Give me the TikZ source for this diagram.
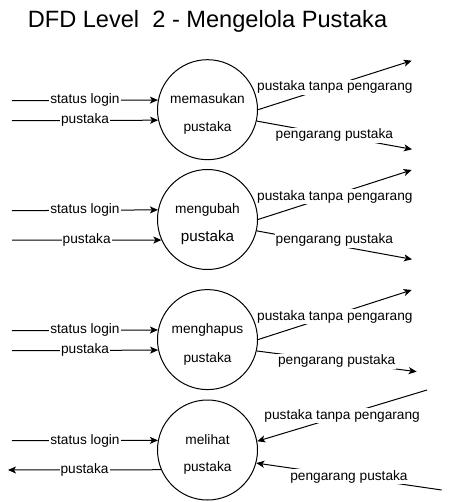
\documentclass[tikz,border=0pt]{standalone}
\usepackage{fontspec}
\setmainfont{Liberation Sans}
\usetikzlibrary{arrows.meta}
\begin{document}
\begin{tikzpicture}[x=1pt,y=-1pt,
  proc/.style={circle,draw,line width=1pt,minimum size=100pt,inner sep=0pt},
  arr/.style={line width=1pt,-{Stealth[length=8pt,width=7pt,inset=2pt]}},
  lbl/.style={fill=white,inner sep=1pt,text height=10pt,text depth=3pt,font=\fontsize{13.7}{16}\selectfont},
  ptext/.style={inner sep=0pt,text height=10pt,text depth=3pt,font=\fontsize{13.7}{16}\selectfont}]
\useasboundingbox (0,0) rectangle (452,502);
\node[font=\fontsize{23.6}{28}\selectfont, anchor=base] (title) at (207.5,28) {DFD Level\ \ 2 - Mengelola Pustaka};

% ---------- process 1
\node[proc] (c1) at (207.5,109.7) {};
\node[ptext] (t1a) at (207.5,100) {memasukan};
\node[ptext] (t1b) at (207.5,128) {pustaka};
\coordinate (a1) at (12,100.7);
\coordinate (b1) at (12,120.7);
\coordinate (e1) at (411.7,60.7);
\coordinate (f1) at (412,149.3);
\draw[arr] (a1) -- (c1.169.6) node[lbl,midway] (la1) {status login};
\draw[arr] (b1) -- (c1.192.7) node[lbl,midway] (lb1) {pustaka};
\draw[arr] (c1.0) -- (e1) node[lbl,midway,yshift=-2pt] (le1) {pustaka tanpa pengarang};
\draw[arr] (c1.347.6) -- (f1) node[lbl,midway] (lf1) {pengarang pustaka};

% ---------- process 2
\node[proc] (c2) at (207.5,219.5) {};
\node[ptext] (t2a) at (207.5,210) {mengubah};
\node[ptext,font=\fontsize{15.2}{18}\selectfont] (t2b) at (207.5,238) {pustaka};
\coordinate (a2) at (12,210.7);
\coordinate (b2) at (12,240);
\coordinate (e2) at (411.7,170);
\coordinate (f2) at (412,259.3);
\draw[arr] (a2) -- (c2.169.9) node[lbl,midway] (la2) {status login};
\draw[arr] (b2) -- (c2.204.2) node[lbl,midway] (lb2) {pustaka};
\draw[arr] (c2.0) -- (e2) node[lbl,midway,yshift=-2pt] (le2) {pustaka tanpa pengarang};
\draw[arr] (c2.347) -- (f2) node[lbl,midway,yshift=5pt] (lf2) {pengarang pustaka};

% ---------- process 3
\node[proc] (c3) at (207.5,339.6) {};
\node[ptext] (t3a) at (207.5,330) {menghapus};
\node[ptext] (t3b) at (207.5,359) {pustaka};
\coordinate (a3) at (12,330.7);
\coordinate (b3) at (12,350.7);
\coordinate (e3) at (411.7,290);
\coordinate (f3) at (416.7,371.7);
\draw[arr] (a3) -- (c3.169.7) node[lbl,midway] (la3) {status login};
\draw[arr] (b3) -- (c3.192.8) node[lbl,midway] (lb3) {pustaka};
\draw[arr] (c3.0) -- (e3) node[lbl,midway,yshift=-2pt] (le3) {pustaka tanpa pengarang};
\draw[arr] (c3.347) -- (f3) node[lbl,midway] (lf3) {pengarang pustaka};

% ---------- process 4
\node[proc] (c4) at (207.5,450) {};
\node[ptext] (t4a) at (207.5,440.7) {melihat};
\node[ptext] (t4b) at (207.5,468) {pustaka};
\coordinate (a4) at (12,440.7);
\coordinate (b4) at (8,470);
\coordinate (e4) at (427,390);
\coordinate (f4) at (441.7,490);
\draw[arr] (a4) -- (c4.169.3) node[lbl,midway] (la4) {status login};
\draw[arr] (c4.203.6) -- (b4) node[lbl,midway] (lb4) {pustaka};
\draw[arr] (e4) -- (c4.10.7) node[lbl,midway] (le4) {pustaka tanpa pengarang};
\draw[arr] (f4) -- (c4.345.3) node[lbl,midway] (lf4) {pengarang pustaka};
\end{tikzpicture}
\end{document}
